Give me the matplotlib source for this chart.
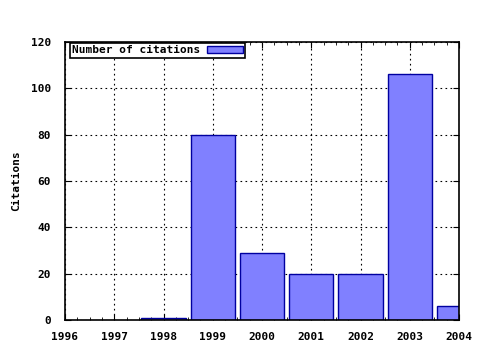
import matplotlib
matplotlib.use("Agg")
import matplotlib.pyplot as plt
from matplotlib.ticker import MultipleLocator

years = [1998, 1999, 2000, 2001, 2002, 2003, 2004]
citations = [1, 80, 29, 20, 20, 106, 6]
x_ticks = [1996, 1997, 1998, 1999, 2000, 2001, 2002, 2003, 2004]
y_ticks = [0, 20, 40, 60, 80, 100, 120]

plt.rcParams['font.family'] = ['DejaVu Sans Mono']
plt.rcParams['font.weight'] = 'bold'
plt.rcParams['font.size'] = 8

fig = plt.figure(figsize=(4.8, 3.5), dpi=100)
ax = fig.add_axes([65 / 480, 30 / 350, 394 / 480, 278 / 350])

ax.bar(years, citations, width=0.9, color='#8080ff', edgecolor='#0000a0',
       linewidth=1, label='Number of citations', zorder=2)

ax.set_xlim(1996, 2004)
ax.set_ylim(0, 120)
ax.set_xticks(x_ticks)
ax.set_yticks(y_ticks)
ax.xaxis.set_minor_locator(MultipleLocator(0.25))
ax.tick_params(which='both', direction='in', top=True, right=True)
ax.tick_params(axis='x', pad=9)
ax.tick_params(axis='y', pad=10)
ax.tick_params(which='major', length=4)
ax.tick_params(which='minor', length=2)
ax.tick_params(axis='y', which='minor', left=False, right=False)
for lab in ax.get_xticklabels() + ax.get_yticklabels():
    lab.set_fontweight('bold')

ax.grid(True, which='major', color='black', linestyle=(0, (1.5, 3)), linewidth=0.8, zorder=0)
ax.set_axisbelow(True)
for s in ax.spines.values():
    s.set_linewidth(1.2)

ax.set_ylabel('Citations', fontweight='bold', labelpad=7)

leg = ax.legend(loc='upper left', bbox_to_anchor=(0.01, 1.0), fancybox=False,
                framealpha=1, edgecolor='black', borderpad=0.2, handlelength=3.2,
                handleheight=0.6, markerfirst=False, borderaxespad=0.1,
                handletextpad=0.6, prop={'weight': 'bold', 'size': 8})
leg.get_frame().set_linewidth(1.2)

fig.savefig('out.png', dpi=100)
